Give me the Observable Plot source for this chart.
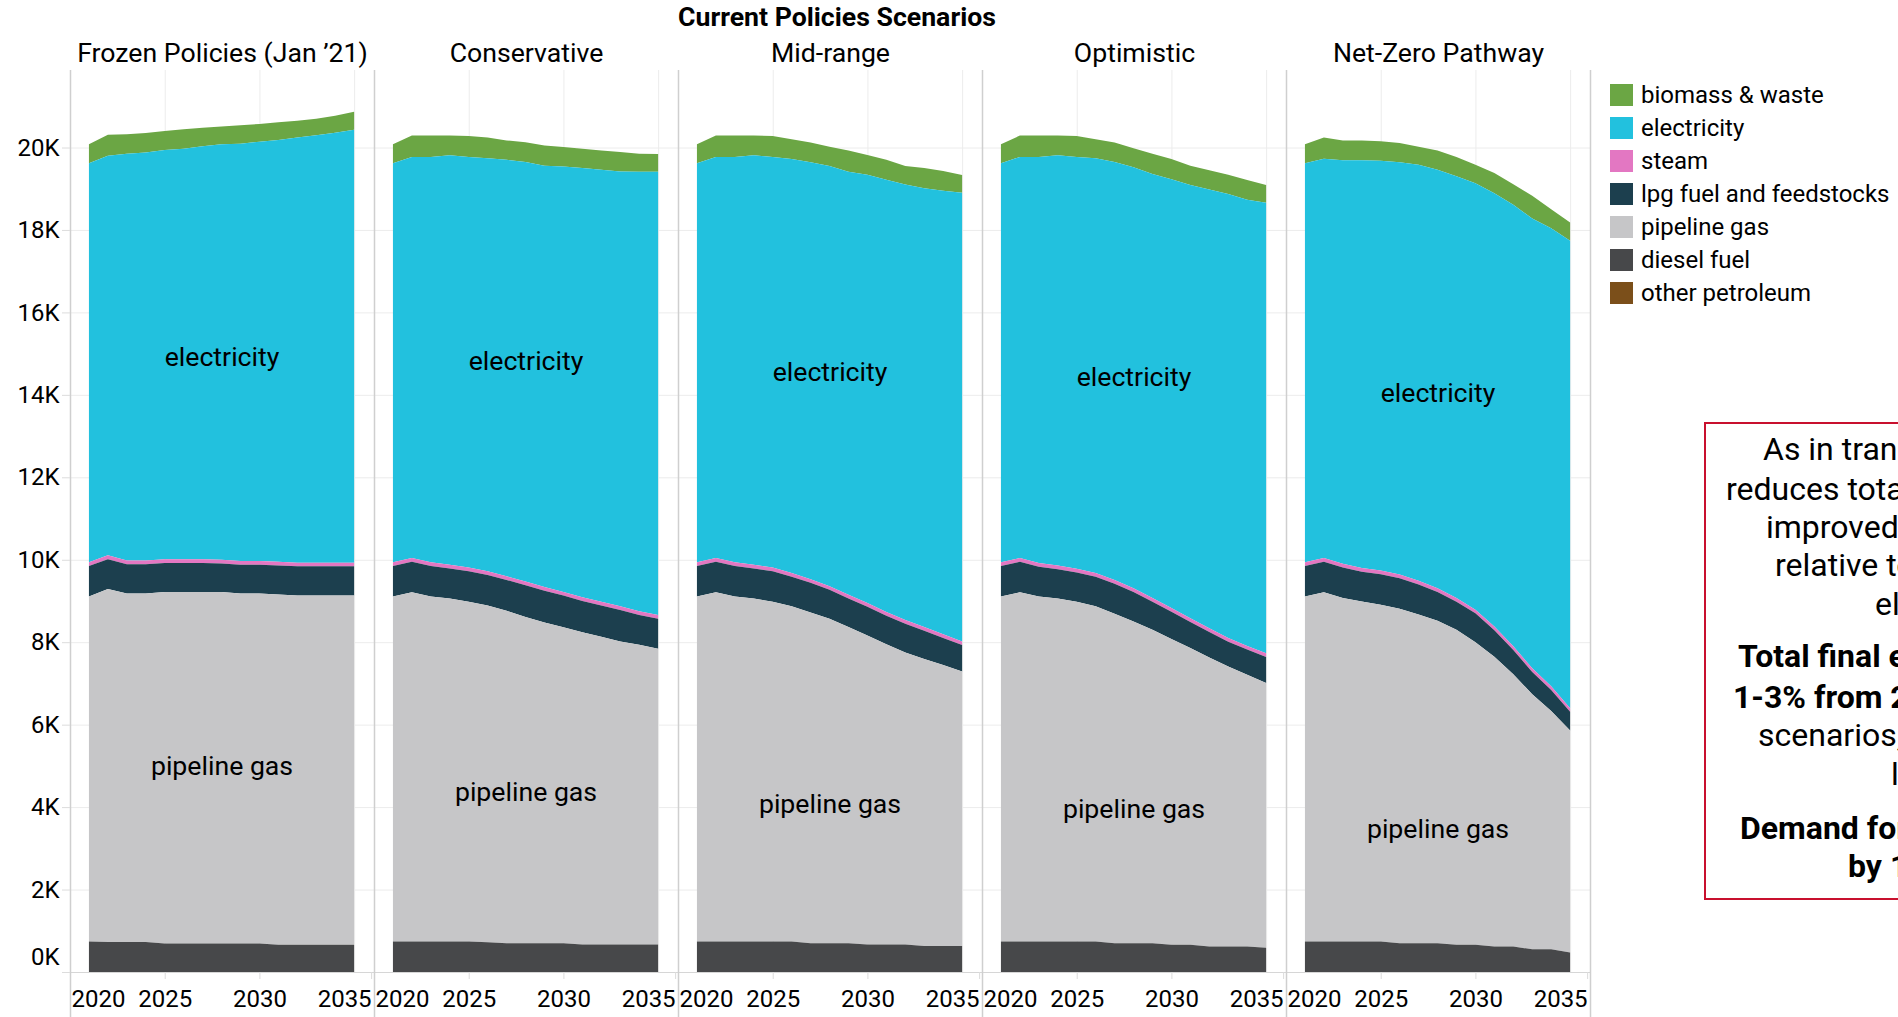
<!DOCTYPE html>
<html>
<head>
<meta charset="utf-8">
<script src="https://cdn.jsdelivr.net/npm/d3@7"></script>
<script src="https://cdn.jsdelivr.net/npm/@observablehq/plot@0.6"></script>
<style>
  html, body { margin: 0; padding: 0; background: #fff; width: 1898px; height: 1017px; overflow: hidden; }
  body { font-family: Roboto, "Noto Sans", sans-serif; position: relative; color: #000; }
  #title { height: 32px; width: 1674px; text-align: center; font-weight: bold; font-size: 26.67px; line-height: 34px; }
  #chart svg { display: block; }
  .leg-item { position: absolute; height: 22px; }
  .leg-sw { position: absolute; left: 0; top: 0; width: 23px; height: 22px; }
  .leg-tx { position: absolute; left: 31px; top: -4px; font-size: 24px; line-height: 30px; white-space: nowrap; }
  #notebox { position: absolute; left: 1704px; top: 422px; width: 520px; height: 478px; border: 2px solid #c8102e; box-sizing: border-box; }
  .nl { position: absolute; font-size: 32px; line-height: 38px; white-space: nowrap; }
  .nl.b { font-weight: bold; }
</style>
</head>
<body>
<div id="title">Current Policies Scenarios</div>
<div id="chart"></div>
<div id="legend"></div>
<div id="notebox"></div>
<div id="note"></div>
<script>
// ---------- data ----------
const scenarios = ["Frozen Policies (Jan ’21)", "Conservative", "Mid-range", "Optimistic", "Net-Zero Pathway"];
const years = [2021, 2022, 2023, 2024, 2025, 2026, 2027, 2028, 2029, 2030, 2031, 2032, 2033, 2034, 2035];
const fuels = ["biomass & waste", "electricity", "steam", "lpg fuel and feedstocks", "pipeline gas", "diesel fuel", "other petroleum"];
const fuelColors = ["#6ba644", "#22c1de", "#e377c2", "#1c3f4e", "#c6c6c8", "#47484a", "#7b4f1a"];

// one row per scenario (same order as `scenarios`), values per year
const biomassWaste = [
  [460, 510, 470, 470, 460, 470, 450, 430, 450, 430, 430, 410, 400, 410, 440],
  [460, 520, 520, 480, 510, 500, 470, 480, 490, 470, 470, 470, 470, 440, 430],
  [460, 520, 520, 480, 510, 480, 480, 470, 520, 480, 480, 450, 490, 480, 430],
  [460, 520, 520, 480, 510, 460, 470, 460, 490, 490, 470, 470, 470, 480, 430],
  [460, 510, 480, 480, 470, 470, 440, 470, 470, 450, 490, 500, 550, 460, 440]
];
const electricity = [
  [9680, 9690, 9870, 9900, 9930, 9960, 10020, 10080, 10120, 10170, 10230, 10310, 10370, 10430, 10500],
  [9680, 9730, 9830, 9930, 9960, 10020, 10100, 10180, 10220, 10320, 10410, 10480, 10550, 10660, 10750],
  [9680, 9730, 9830, 9930, 9960, 10040, 10110, 10190, 10260, 10390, 10490, 10560, 10640, 10760, 10880],
  [9680, 9730, 9850, 9950, 9990, 10060, 10140, 10210, 10290, 10400, 10510, 10640, 10770, 10820, 10930],
  [9680, 9690, 9790, 9890, 9940, 10000, 10090, 10150, 10230, 10340, 10510, 10710, 10910, 11110, 11340]
];
const steam = [
  [90, 100, 90, 90, 90, 90, 90, 90, 90, 90, 90, 90, 90, 90, 90],
  [90, 90, 90, 90, 90, 90, 90, 90, 90, 90, 90, 90, 90, 90, 90],
  [90, 90, 90, 90, 90, 90, 90, 90, 90, 90, 90, 90, 90, 90, 90],
  [90, 90, 90, 90, 90, 90, 90, 90, 90, 90, 90, 90, 90, 90, 90],
  [90, 90, 90, 90, 90, 90, 90, 90, 90, 90, 90, 90, 90, 90, 90]
];
const lpgFuel = [
  [740, 720, 710, 710, 700, 700, 700, 690, 700, 700, 700, 710, 710, 710, 710],
  [740, 740, 740, 730, 740, 740, 750, 770, 770, 770, 760, 760, 760, 720, 730],
  [740, 740, 740, 730, 740, 720, 720, 700, 690, 700, 690, 700, 690, 650, 640],
  [740, 740, 720, 710, 710, 720, 730, 720, 680, 660, 630, 620, 600, 610, 630],
  [740, 740, 740, 720, 740, 740, 730, 700, 680, 700, 640, 590, 540, 510, 450]
];
const pipelineGas = [
  [8370, 8560, 8450, 8450, 8530, 8530, 8530, 8530, 8490, 8490, 8500, 8470, 8470, 8470, 8470],
  [8370, 8470, 8370, 8320, 8240, 8170, 8060, 7910, 7780, 7660, 7570, 7460, 7350, 7270, 7170],
  [8370, 8470, 8370, 8320, 8240, 8130, 8020, 7870, 7670, 7490, 7280, 7080, 6960, 6820, 6660],
  [8370, 8470, 8370, 8320, 8240, 8130, 7990, 7800, 7600, 7420, 7200, 7010, 6790, 6590, 6420],
  [8370, 8470, 8330, 8250, 8170, 8110, 7970, 7820, 7640, 7340, 7030, 6600, 6190, 5780, 5390]
];
const dieselFuel = [
  [740, 730, 730, 730, 690, 690, 690, 690, 690, 690, 660, 660, 660, 660, 660],
  [740, 740, 740, 740, 740, 720, 700, 700, 700, 700, 670, 670, 670, 670, 670],
  [740, 740, 740, 740, 740, 740, 700, 700, 700, 670, 670, 670, 630, 630, 630],
  [740, 740, 740, 740, 740, 740, 700, 700, 700, 660, 660, 620, 620, 620, 590],
  [740, 740, 740, 740, 740, 700, 700, 700, 660, 660, 620, 620, 550, 550, 470]
];
const otherPetroleum = [
  [0, 0, 0, 0, 0, 0, 0, 0, 0, 0, 0, 0, 0, 0, 0],
  [0, 0, 0, 0, 0, 0, 0, 0, 0, 0, 0, 0, 0, 0, 0],
  [0, 0, 0, 0, 0, 0, 0, 0, 0, 0, 0, 0, 0, 0, 0],
  [0, 0, 0, 0, 0, 0, 0, 0, 0, 0, 0, 0, 0, 0, 0],
  [0, 0, 0, 0, 0, 0, 0, 0, 0, 0, 0, 0, 0, 0, 0]
];

// in-area labels (year and value where each label sits)
const labelFuels = ["electricity", "pipeline gas"];
const labelYear = 2028;
const electricityLabelValue = [14920, 14820, 14550, 14440, 14040];
const gasLabelValue = [5000, 4370, 4070, 3950, 3470];

const yTicks = [0, 2000, 4000, 6000, 8000, 10000, 12000, 14000, 16000, 18000, 20000];
const xTicks = [2020, 2025, 2030, 2035];

// ---------- build table ----------
const seriesByFuel = [biomassWaste, electricity, steam, lpgFuel, pipelineGas, dieselFuel, otherPetroleum];
const rows = [];
scenarios.forEach((s, i) => {
  fuels.forEach((f, k) => {
    years.forEach((yr, j) => rows.push({scenario: s, fuel: f, year: yr, value: seriesByFuel[k][i][j]}));
  });
});
const stackOrder = fuels.slice().reverse();
const labelRows = [];
scenarios.forEach((s, i) => {
  labelRows.push({scenario: s, fuel: labelFuels[0], year: labelYear, value: electricityLabelValue[i]});
  labelRows.push({scenario: s, fuel: labelFuels[1], year: labelYear, value: gasLabelValue[i]});
});

const xDomain = [2020, 2036.05];
const fmtK = d => (d / 1000) + "K";

const chart = Plot.plot({
  width: 1600,
  height: 985,
  marginTop: 38,
  marginBottom: 45,
  marginLeft: 69,
  marginRight: 9,
  style: {fontFamily: "Roboto, sans-serif", fontSize: "24px", color: "#000", background: "transparent", overflow: "visible"},
  fx: {domain: scenarios, padding: 0, label: null},
  x: {domain: xDomain, label: null},
  y: {domain: [0, 21880], label: null},
  color: {domain: fuels, range: fuelColors},
  marks: [
    Plot.gridY(yTicks, {stroke: "#ececec", strokeOpacity: 1}),
    Plot.gridX(xTicks.slice(1), {stroke: "#ececec", strokeOpacity: 1}),
    Plot.areaY(rows, {x: "year", y: "value", fx: "scenario", z: "fuel", fill: "fuel", order: stackOrder, curve: "linear"}),
    Plot.ruleY([0], {stroke: "#d6d6d6"}),
    Plot.ruleX(scenarios, {fx: d => d, x: () => xDomain[0], stroke: "#cfcfcf", strokeWidth: 1.5, insetBottom: -45}),
    Plot.ruleX([scenarios[scenarios.length - 1]], {fx: d => d, x: () => xDomain[1], stroke: "#cfcfcf", strokeWidth: 1.5, insetBottom: -45}),
    Plot.axisY({ticks: yTicks, tickSize: 8, tickPadding: 3, tickFormat: d => d === 0 ? "" : fmtK(d), label: null, stroke: "#dcdcdc", fill: "#000"}),
    Plot.axisY({ticks: [0], tickSize: 0, tickPadding: 11, dy: -15, tickFormat: fmtK, label: null, fill: "#000"}),
    Plot.axisX({ticks: xTicks.slice(1, 3), tickSize: 7, tickPadding: 10, tickFormat: d => String(d), label: null, stroke: "#dcdcdc", fill: "#000"}),
    Plot.axisX({ticks: xTicks.slice(3), tickSize: 7, tickPadding: 10, tickFormat: d => String(d), textAnchor: "end", dx: 17, label: null, stroke: "#dcdcdc", fill: "#000"}),
    Plot.axisX({ticks: xTicks.slice(0, 1), tickSize: 0, tickPadding: 17, tickFormat: d => String(d), textAnchor: "start", dx: 1, label: null, fill: "#000"}),
    Plot.axisFx({anchor: "top", tickSize: 0, tickPadding: 0, dy: -9, fontSize: 26.67, label: null, fill: "#000"}),
    Plot.text(labelRows, {x: "year", y: "value", fx: "scenario", text: "fuel", fontSize: 26.67, fill: "#000"})
  ]
});
document.getElementById("chart").appendChild(chart);

// ---------- legend ----------
const legend = document.getElementById("legend");
fuels.forEach((f, i) => {
  const item = document.createElement("div");
  item.className = "leg-item";
  item.style.left = "1610px";
  item.style.top = (84 + 33 * i) + "px";
  const sw = document.createElement("div");
  sw.className = "leg-sw";
  sw.style.background = fuelColors[i];
  const tx = document.createElement("div");
  tx.className = "leg-tx";
  tx.textContent = f;
  item.appendChild(sw);
  item.appendChild(tx);
  legend.appendChild(item);
});

// ---------- annotation ----------
const noteLines = [
  "As in transportation, electrification",
  "reduces total final energy demand due to",
  "improved efficiency of electric equipment",
  "relative to fossil-fuel equipment and",
  "electrification.",
  "Total final energy demand declines",
  "1-3% from 2021 to 2035 in most",
  "scenarios, and falls further in the",
  "l Net-Zero Pathway.",
  "Demand for pipeline gas falls",
  "by 1-4% per year."
];
const noteBold = [false, false, false, false, false, true, true, false, false, true, true];
const noteLeft = [1763, 1726, 1766, 1775, 1875, 1738, 1733, 1758, 1891, 1740, 1848];
const noteMid = [450, 490, 528, 566, 605, 657, 698, 736, 775, 829, 867];
const note = document.getElementById("note");
noteLines.forEach((t, i) => {
  const d = document.createElement("div");
  d.className = "nl" + (noteBold[i] ? " b" : "");
  d.style.left = noteLeft[i] + "px";
  d.style.top = (noteMid[i] - 20) + "px";
  d.textContent = t;
  note.appendChild(d);
});
</script>
</body>
</html>
